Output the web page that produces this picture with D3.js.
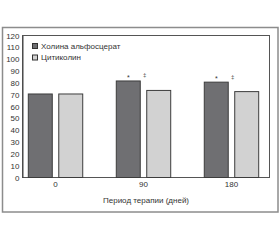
<!DOCTYPE html>
<html><head><meta charset="utf-8">
<script src="https://cdn.jsdelivr.net/npm/d3@7"></script>
<style>
html,body{margin:0;padding:0;background:#fff;}
svg{display:block;font-family:"Liberation Sans Narrow","Liberation Sans",Arial,sans-serif;}
</style></head>
<body>
<svg id="c" width="280" height="240"></svg>
<script>
const categories = ["0", "90", "180"];
const seriesNames = ["Холина альфосцерат", "Цитиколин"];
const cholineValues = [71, 82, 81];
const citicolineValues = [71, 74, 73];
const cholineMarks = ["", "*", "*"];
const citicolineMarks = ["", "‡", "‡"];
const yTicks = [0,10,20,30,40,50,60,70,80,90,100,110,120];
const xTitle = "Период терапии (дней)";

const colors = ["#6f6f72", "#d2d2d2"];
const svg = d3.select("#c");

// outer frame
svg.append("rect").attr("x",2.5).attr("y",27.5).attr("width",275.5).attr("height",184.5)
  .attr("fill","#fff").attr("stroke","#8c8c8c").attr("stroke-width",1.5);

const plot = {left:22.5, right:269.5, top:35.5, bottom:177.5};
const y = d3.scaleLinear().domain([0,120]).range([plot.bottom, plot.top]);
const x0 = d3.scaleBand().domain(categories).range([19,268]).paddingInner(0.37).paddingOuter(0.1);
const x1 = d3.scaleBand().domain([0,1]).range([0,x0.bandwidth()]).paddingInner(0.18);

// inner frame
svg.append("rect").attr("x",plot.left).attr("y",plot.top)
  .attr("width",plot.right-plot.left).attr("height",plot.bottom-plot.top)
  .attr("fill","none").attr("stroke","#555").attr("stroke-width",1);

// y axis
const yAxis = d3.axisLeft(y).tickValues(yTicks).tickSize(0).tickPadding(3);
const ga = svg.append("g").attr("transform",`translate(${plot.left},0)`).call(yAxis);
ga.select(".domain").attr("stroke","#444");
ga.selectAll("text").attr("font-size",8).attr("fill","#333").attr("font-family","inherit");

// bars
const rows = categories.map((c,i)=>({cat:c, vals:[cholineValues[i], citicolineValues[i]], marks:[cholineMarks[i], citicolineMarks[i]]}));
const g = svg.selectAll("g.grp").data(rows).enter().append("g").attr("class","grp")
  .attr("transform",d=>`translate(${x0(d.cat)},0)`);
g.selectAll("rect").data(d=>d.vals.map((v,k)=>({v,k}))).enter().append("rect")
  .attr("x",d=>x1(d.k)+0.5).attr("y",d=>y(d.v)+0.5)
  .attr("width",x1.bandwidth()-1).attr("height",d=>plot.bottom-y(d.v)-0.5)
  .attr("fill",d=>colors[d.k]).attr("stroke","#3c3c3c").attr("stroke-width",1);

// significance marks
g.each(function(d){
  const top = y(Math.max(...d.vals));
  const sel = d3.select(this);
  if(d.marks[0]) sel.append("text").attr("x",x1(0)+x1.bandwidth()/2).attr("y",top-0.5)
    .attr("text-anchor","middle").attr("font-size",7).attr("fill","#333").text(d.marks[0]);
  if(d.marks[1]) sel.append("text").attr("x",x1(1)-1.5).attr("y",top-3)
    .attr("text-anchor","middle").attr("font-size",6).attr("fill","#333").text(d.marks[1]);
});

// x axis labels
const xAxis = d3.axisBottom(x0).tickSize(0).tickPadding(4);
const gx = svg.append("g").attr("transform",`translate(0,${plot.bottom})`).call(xAxis);
gx.select(".domain").remove();
gx.selectAll("text").attr("font-size",8).attr("fill","#333").attr("font-family","inherit");

svg.append("text").attr("x",(plot.left+plot.right)/2).attr("y",203)
  .attr("text-anchor","middle").attr("font-size",8).attr("fill","#333").text(xTitle);

// legend
const lg = svg.append("g").attr("transform","translate(32,43)");
seriesNames.forEach((n,i)=>{
  lg.append("rect").attr("x",0.5).attr("y",i*11.5+0.5).attr("width",5).attr("height",5)
    .attr("fill",colors[i]).attr("stroke","#333").attr("stroke-width",1);
  lg.append("text").attr("x",9).attr("y",i*11.5+5.5).attr("font-size",8).attr("fill","#333").text(n);
});
</script>
</body></html>
